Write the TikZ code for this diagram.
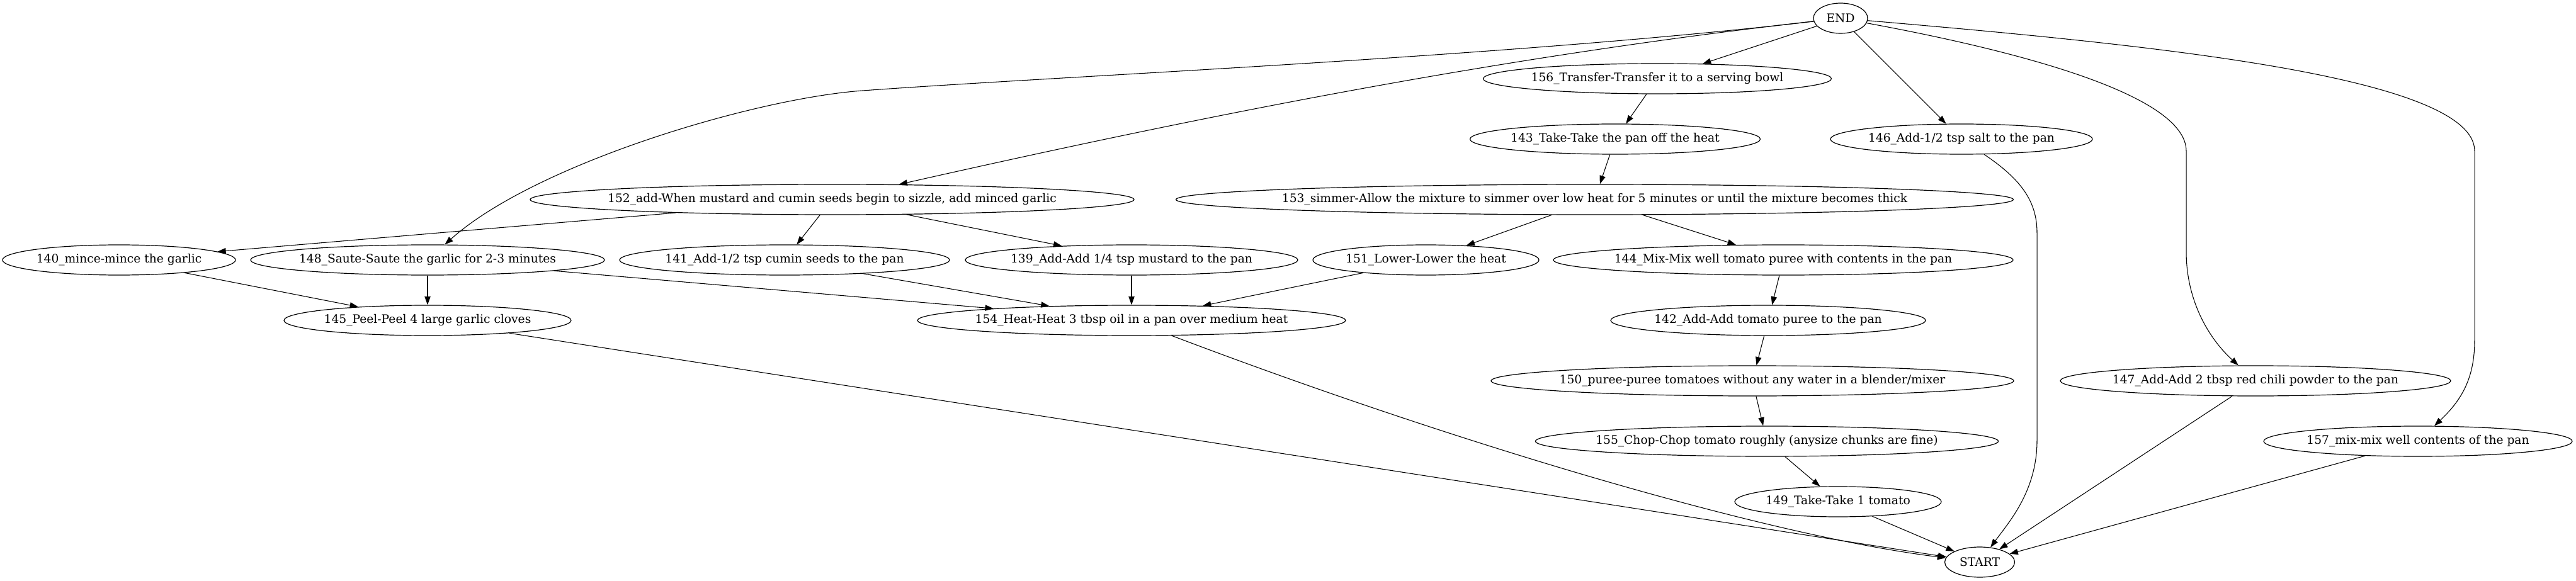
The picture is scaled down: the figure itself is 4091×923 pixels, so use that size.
\documentclass[tikz,border=0pt]{standalone}
\usepackage{fontspec}
\setmainfont{DejaVu Serif}
\usetikzlibrary{shapes,arrows.meta}

\tikzset{
  stepnode/.style={draw, ellipse, line width=0.9pt, minimum width=#1, minimum height=36pt,
    inner sep=0pt, font=\fontsize{14pt}{17pt}\selectfont,
    execute at begin node={\hbox to 0pt\bgroup\hss}, execute at end node={\hss\egroup}},
  flow/.style={line width=0.8pt, -{Triangle[length=10pt,width=7pt]}}
}

\begin{document}
\begin{tikzpicture}[x=0.75pt, y=-0.75pt]
        \useasboundingbox (0,0) rectangle (4091,923);
        % rows of steps, top to bottom
        \node[stepnode=64.5pt] (end) at (2923,29) {END};
        \node[stepnode=414.75pt] (t156) at (2632,125) {156\_Transfer-Transfer it to a serving bowl};
        \node[stepnode=345.75pt] (t143) at (2565,221) {143\_Take-Take the pan off the heat};
        \node[stepnode=312pt] (t146) at (3115,221) {146\_Add-1/2 tsp salt to the pan};
        \node[stepnode=719.25pt] (t152) at (1321.5,317) {152\_add-When mustard and cumin seeds begin to sizzle, add minced garlic};
        \node[stepnode=997.5pt] (t153) at (2532.5,317) {153\_simmer-Allow the mixture to simmer over low heat for 5 minutes or until the mixture becomes thick};
        \node[stepnode=277.5pt] (t140) at (189,413) {140\_mince-mince the garlic};
        \node[stepnode=421.5pt] (t148) at (679,413) {148\_Saute-Saute the garlic for 2-3 minutes};
        \node[stepnode=393pt] (t141) at (1246,413) {141\_Add-1/2 tsp cumin seeds to the pan};
        \node[stepnode=396pt] (t139) at (1797,413) {139\_Add-Add 1/4 tsp mustard to the pan};
        \node[stepnode=269.25pt] (t151) at (2264.5,413) {151\_Lower-Lower the heat};
        \node[stepnode=547.5pt] (t144) at (2832,413) {144\_Mix-Mix well tomato puree with contents in the pan};
        \node[stepnode=342pt] (t145) at (679,509) {145\_Peel-Peel 4 large garlic cloves};
        \node[stepnode=510pt] (t154) at (1797,509) {154\_Heat-Heat 3 tbsp oil in a pan over medium heat};
        \node[stepnode=375pt] (t142) at (2808,509) {142\_Add-Add tomato puree to the pan};
        \node[stepnode=622.5pt] (t150) at (2783,605) {150\_puree-puree tomatoes without any water in a blender/mixer};
        \node[stepnode=465pt] (t147) at (3582,605) {147\_Add-Add 2 tbsp red chili powder to the pan};
        \node[stepnode=551.25pt] (t155) at (2806,701) {155\_Chop-Chop tomato roughly (anysize chunks are fine)};
        \node[stepnode=367.5pt] (t157) at (3840,701) {157\_mix-mix well contents of the pan};
        \node[stepnode=246pt] (t149) at (2919,797) {149\_Take-Take 1 tomato};
        \node[stepnode=83.25pt] (start) at (3144,893) {START};

        % from END
        \draw[flow] (end) -- (t156);
        \draw[flow] (end) -- (t146);
        \draw[flow] (end) .. controls (2381,90) and (1910,184) .. (t152);
        \draw[flow] (end) .. controls (2400,90) and (1700,120) .. (1370,144) .. controls (1200,156) and (850,260) .. (t148);
        \draw[flow] (end) .. controls (3200,80) and (3472,150) .. (3472,240) -- (3472,400) .. controls (3472,480) and (3510,540) .. (t147);
        \draw[flow] (end) .. controls (3400,70) and (3930,120) .. (3930,240) -- (3930,540) .. controls (3930,600) and (3910,635) .. (t157);

        \draw[flow] (t156) -- (t143);
        \draw[flow] (t143) -- (t153);
        \draw[flow] (t153) -- (t151);
        \draw[flow] (t153) -- (t144);
        \draw[flow] (t144) -- (t142);
        \draw[flow] (t142) -- (t150);
        \draw[flow] (t150) -- (t155);
        \draw[flow] (t155) -- (t149);
        \draw[flow] (t152) -- (t140);
        \draw[flow] (t152) -- (t141);
        \draw[flow] (t152) -- (t139);
        \draw[flow] (t140) -- (t145);
        \draw[flow] (t148) -- (t145);
        \draw[flow] (t148) -- (t154);
        \draw[flow] (t141) -- (t154);
        \draw[flow] (t139) -- (t154);
        \draw[flow] (t151) -- (t154);

        % into START
        \draw[flow] (t145) -- (start);
        \draw[flow] (t154) .. controls (2300,700) and (2800,850) .. (start);
        \draw[flow] (t146) .. controls (3210,285) and (3235,320) .. (3235,370) -- (3235,700) .. controls (3235,780) and (3190,830) .. (start);
        \draw[flow] (t147) -- (start);
        \draw[flow] (t157) -- (start);
        \draw[flow] (t149) -- (start);
    \end{tikzpicture}
\end{document}
